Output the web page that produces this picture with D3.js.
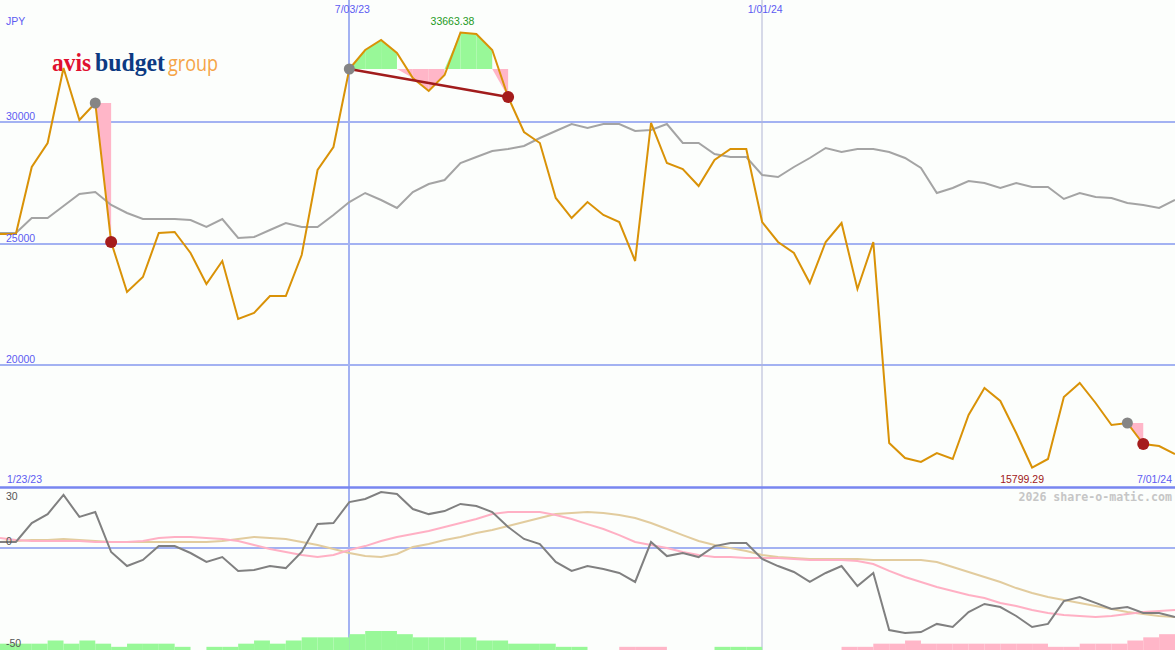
<!DOCTYPE html>
<html><head><meta charset="utf-8">
<script src="https://cdn.jsdelivr.net/npm/d3@7"></script>
<style>html,body{margin:0;padding:0;background:#fcfefc;overflow:hidden}svg{display:block}</style>
</head><body><svg id="c" width="1175" height="650"></svg>
<script>
// ---- data (weekly closes, JPY) ----
const startDate = "2023-01-30";
const price = [25390, 25390, 28142, 29127, 32207, 30072, 30770, 25062, 23008, 23624,
  25431, 25472, 24610, 23337, 24281, 21899, 22146, 22844, 22844, 24528,
  28019, 28963, 32166, 32947, 33357, 32824, 31797, 31263, 31920, 33663.38,
  33604, 32947, 31017, 29579, 29127, 26869, 26047, 26704, 26170, 25883,
  24281, 29949, 28306, 28060, 27361, 28429, 28881, 28881, 25883, 25062,
  24610, 23378, 25062, 25842, 23131, 25062, 16807, 16191, 16027, 16396,
  16150, 17957, 19066, 18532, 17218, 15799.29, 16150, 18696, 19271, 18450,
  17546, 17628, 16766, 16684, 16355];
const benchmark = [25431, 25431, 26047, 26047, 26540, 27033, 27115, 26581, 26253, 26006,
  26006, 26006, 25965, 25678, 26006, 25226, 25267, 25554, 25842, 25678,
  25678, 26170, 26704, 27074, 26787, 26458, 27115, 27444, 27608, 28306,
  28552, 28799, 28881, 29004, 29333, 29620, 29908, 29743, 29908, 29908,
  29620, 29661, 29908, 29127, 29127, 28676, 28552, 28552, 27813, 27731,
  28142, 28511, 28922, 28758, 28881, 28881, 28758, 28511, 28101, 27074,
  27279, 27567, 27485, 27279, 27485, 27320, 27320, 26828, 27074, 26910,
  26869, 26663, 26581, 26458, 26787];
const momentum = [3.0, 3.0, 12.3, 16.7, 26.1, 15.3, 17.7, -1.9, -8.8, -5.8,
  1.0, 1.0, -2.4, -6.8, -4.4, -11.2, -10.7, -8.8, -9.8, -1.9,
  11.8, 12.3, 22.6, 24.1, 27.5, 26.6, 19.2, 16.7, 18.2, 21.7,
  20.7, 17.7, 10.4, 4.5, 2.0, -6.8, -11.2, -8.8, -10.2, -12.2,
  -16.6, 3.0, -3.9, -2.4, -4.4, 1.0, 2.5, 2.5, -5.3, -8.8,
  -11.7, -16.6, -12.2, -8.8, -18.6, -12.2, -40.2, -41.7, -41.2, -37.2,
  -38.7, -31.4, -27.4, -28.9, -33.3, -38.7, -37.2, -26.0, -24.0, -26.9,
  -29.9, -28.9, -31.8, -31.8, -33.8];
const avgFast = [5.0, 4.0, 3.5, 3.5, 3.5, 3.5, 3.0, 3.0, 3.0, 3.5,
  5.0, 5.5, 5.5, 5.0, 4.5, 3.5, 1.5, -0.4, -1.9, -3.4,
  -4.4, -3.4, -0.9, 1.0, 3.5, 5.5, 6.9, 8.4, 10.4, 12.3,
  14.3, 16.7, 17.7, 17.7, 17.7, 16.3, 14.3, 11.8, 9.4, 6.4,
  3.0, 1.5, 0.1, -1.9, -3.4, -4.4, -4.4, -4.8, -4.8, -4.8,
  -5.3, -5.8, -5.8, -5.8, -6.3, -7.8, -11.2, -14.2, -16.6, -19.1,
  -21.0, -23.0, -24.5, -26.9, -28.4, -30.4, -31.8, -32.8, -33.3, -33.8,
  -33.3, -32.3, -31.4, -30.9, -30.4];
const avgSlow = [3.0, 3.5, 4.0, 4.0, 4.5, 4.0, 3.5, 3.0, 3.0, 3.0,
  3.0, 3.0, 3.0, 3.0, 3.5, 4.5, 5.5, 5.0, 4.5, 3.0,
  1.5, -0.4, -2.4, -3.9, -4.4, -2.9, 0.6, 2.0, 4.0, 5.5,
  7.4, 8.9, 10.9, 12.8, 14.8, 16.7, 17.2, 17.7, 17.2, 16.3,
  14.8, 12.3, 9.4, 6.4, 3.5, 1.5, 0.0, -1.4, -3.4, -4.4,
  -4.8, -5.3, -5.3, -5.3, -5.3, -5.8, -5.8, -5.8, -5.8, -6.8,
  -9.3, -11.7, -14.2, -16.6, -19.6, -22.0, -24.0, -25.5, -26.9, -28.4,
  -29.9, -31.4, -32.3, -33.3, -33.8];
const histogram = [2, 2, 2, 3, 2, 3, 2, 1, 2, 2,
  2, 1, 0, 1, 1, 2, 3, 2, 3, 4,
  4, 4, 5, 6, 6, 5, 4, 4, 4, 4,
  3, 3, 2, 2, 2, 1, 1, 0, 0, -1,
  -1, -1, 0, 0, 0, 1, 1, 1, 0, 0,
  0, 0, 0, -1, -1, -2, -2, -3, -2, -2,
  -2, -2, -2, -2, -2, -2, -1, -1, -2, -2,
  -2, -3, -4, -5];
const priceTicks = [30000, 25000, 20000];
const momentumTicks = [30, 0, -50];
const dateMarks = ["2023-07-03", "2024-01-01"];
const dateMarkLabels = ["7/03/23", "1/01/24"];
const rangeLabels = ["1/23/23", "7/01/24"];
const currency = "JPY";
const periodStarts = [6, 22, 71];
const periodEnds = [7, 32, 72];
const watermark = "2026 share-o-matic.com";
const logoWords = ["avis", "budget", "group"];

// ---- layout ----
const W = 1175, H = 650, mainBottom = 487;
const svg = d3.select("#c");
const parse = d3.timeParse("%Y-%m-%d");
const t0 = parse(startDate);
const dates = price.map((_, i) => d3.timeDay.offset(t0, 7 * i));
const x = d3.scaleTime().domain([dates[0], dates[dates.length - 1]]).range([0, W]);
const y = d3.scaleLinear().domain([15000, 35000]).range([mainBottom, 0]);
const y2 = d3.scaleLinear().domain([-50, 30]).range([H, mainBottom]);
const hScale = d3.scaleLinear().domain([0, 6]).range([0, 19]);

svg.append("rect").attr("width", W).attr("height", H).attr("fill", "#fcfefc");

const labelFont = "'Liberation Sans', Arial, sans-serif";
const blue = "#5c5cf2";

// horizontal grid (price)
svg.append("g").selectAll("line").data(priceTicks).join("line")
  .attr("x1", 0).attr("x2", W)
  .attr("y1", d => Math.round(y(d))).attr("y2", d => Math.round(y(d)))
  .attr("stroke", "#a3b2f2").attr("stroke-width", 2);
// momentum zero line
svg.append("line").attr("x1", 0).attr("x2", W)
  .attr("y1", Math.round(y2(0))).attr("y2", Math.round(y2(0)))
  .attr("stroke", "#a3b2f2").attr("stroke-width", 2);
// vertical date lines
dateMarks.forEach((d, k) => {
  const xx = Math.round(x(parse(d)));
  svg.append("line").attr("x1", xx).attr("x2", xx).attr("y1", 0).attr("y2", H)
    .attr("stroke", k === 0 ? "#a3b2f2" : "#b0b4d4").attr("stroke-width", k === 0 ? 2 : 1);
});

// logo
const serif = "'Liberation Serif', 'DejaVu Serif', serif";
svg.append("text").attr("x", 52).attr("y", 71).attr("font-family", serif).attr("font-weight", "bold")
  .attr("font-size", 25).attr("fill", "#e0102e").attr("textLength", 39).attr("lengthAdjust", "spacingAndGlyphs").text(logoWords[0]);
svg.append("text").attr("x", 95).attr("y", 71).attr("font-family", serif).attr("font-weight", "bold")
  .attr("font-size", 25).attr("fill", "#0d3a82").attr("textLength", 70).attr("lengthAdjust", "spacingAndGlyphs").text(logoWords[1]);
svg.append("text").attr("x", 168).attr("y", 71)
  .attr("font-family", "'Open Sans', 'Liberation Sans', sans-serif").attr("font-size", 22)
  .attr("fill", "#f5a447").attr("textLength", 50).attr("lengthAdjust", "spacingAndGlyphs").text(logoWords[2]);

// momentum histogram
const bars = histogram.map((v, i) => ({v, i})).filter(d => d.v !== 0);
svg.append("g").selectAll("rect").data(bars).join("rect")
  .attr("x", d => x(dates[d.i]))
  .attr("width", d => x(dates[d.i + 1]) - x(dates[d.i]))
  .attr("y", d => H - hScale(Math.abs(d.v)))
  .attr("height", d => hScale(Math.abs(d.v)))
  .attr("fill", d => d.v > 0 ? "#98f898" : "#ffb6c8");

// period fills
periodStarts.forEach((s, k) => {
  const e = periodEnds[k];
  const base = price[s];
  for (let i = s; i < e; i++) {
    const up = price[i + 1] >= base;
    const cl = v => up ? Math.max(v, base) : Math.min(v, base);
    const pts = [[x(dates[i]), y(base)], [x(dates[i]), y(cl(price[i]))],
                 [x(dates[i + 1]), y(cl(price[i + 1]))], [x(dates[i + 1]), y(base)]];
    svg.append("polygon").attr("points", pts.map(p => p.join(",")).join(" "))
      .attr("fill", up ? "#98f898" : "#ffb6c8");
  }
});

const line = (arr, ys) => d3.line().x((d, i) => x(dates[i])).y(d => ys(d))(arr);

// benchmark
svg.append("path").attr("d", line(benchmark, y)).attr("fill", "none")
  .attr("stroke", "#a4a4a4").attr("stroke-width", 2);
// price
svg.append("path").attr("d", line(price, y)).attr("fill", "none")
  .attr("stroke", "#d99207").attr("stroke-width", 2);

// trend line for the long period
periodStarts.forEach((s, k) => {
  const e = periodEnds[k];
  if (e - s > 1) {
    svg.append("line").attr("x1", x(dates[s])).attr("y1", y(price[s]))
      .attr("x2", x(dates[e])).attr("y2", y(price[e]))
      .attr("stroke", "#a11c1c").attr("stroke-width", 2.5);
  }
});
// markers
svg.append("g").selectAll("circle").data(periodStarts).join("circle")
  .attr("cx", d => x(dates[d])).attr("cy", d => y(price[d])).attr("r", 5.5).attr("fill", "#858585");
svg.append("g").selectAll("circle").data(periodEnds).join("circle")
  .attr("cx", d => x(dates[d])).attr("cy", d => y(price[d])).attr("r", 6).attr("fill", "#a51c1c");

// lower panel lines
svg.append("path").attr("d", line(avgSlow, y2)).attr("fill", "none").attr("stroke", "#e2cc9e").attr("stroke-width", 2);
svg.append("path").attr("d", line(avgFast, y2)).attr("fill", "none").attr("stroke", "#ffb0c4").attr("stroke-width", 2);
svg.append("path").attr("d", line(momentum, y2)).attr("fill", "none").attr("stroke", "#808080").attr("stroke-width", 2);

// separator
svg.append("line").attr("x1", 0).attr("x2", W).attr("y1", mainBottom + 0.5).attr("y2", mainBottom + 0.5)
  .attr("stroke", "#7886f0").attr("stroke-width", 2.5);

// texts
const txt = (s, xx, yy, fill, anchor, size) => svg.append("text").attr("x", xx).attr("y", yy)
  .attr("fill", fill).attr("font-family", labelFont).attr("font-size", size || 10.5)
  .attr("text-anchor", anchor || "start").text(s);

txt(currency, 6, 25, blue);
priceTicks.forEach(t => txt(d3.format("d")(t), 6, Math.round(y(t)) - 2, blue));
dateMarks.forEach((d, k) => txt(dateMarkLabels[k], x(parse(d)) + 3, 13, blue, "middle"));
txt(rangeLabels[0], 7, 483, blue);
txt(rangeLabels[1], 1172, 483, blue, "end");

const iMax = d3.maxIndex(price), iMin = d3.minIndex(price);
txt(d3.format(".2f")(price[iMax]), x(dates[iMax]) - 8, 25, "#1e9a1e", "middle");
txt(d3.format(".2f")(price[iMin]), x(dates[iMin]) - 10, 483, "#a01818", "middle");

const mlabY = [500, 545, 647];
momentumTicks.forEach((t, k) => txt(String(t), 6, mlabY[k], "#555555"));

svg.append("text").attr("x", 1172).attr("y", 501).attr("text-anchor", "end")
  .attr("font-family", "'DejaVu Sans Mono', monospace").attr("font-weight", "bold").attr("font-size", 11.6)
  .attr("fill", "#c6c6c6").text(watermark);
</script></body></html>
